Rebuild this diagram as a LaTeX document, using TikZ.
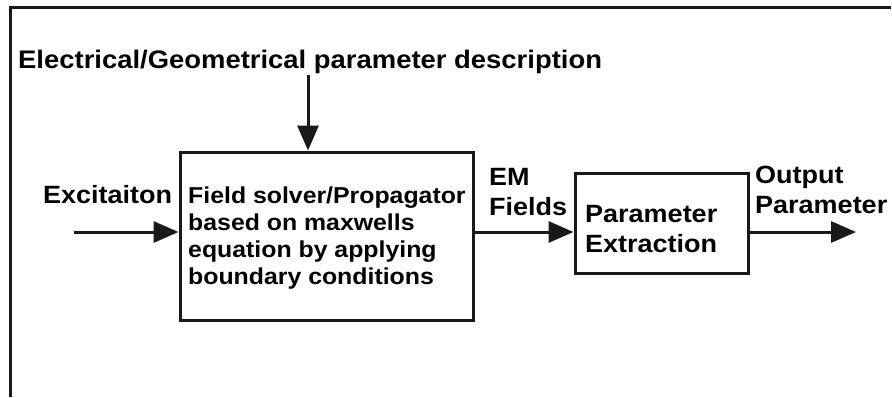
\documentclass[tikz,border=0pt]{standalone}
\usepackage{fontspec}
\setmainfont{Liberation Sans}[FakeStretch=1.08]
\usetikzlibrary{arrows.meta}
\begin{document}
\begin{tikzpicture}[x=1pt,y=-1pt,
  line/.style={line width=3pt,draw=black!90},
  flow/.style={line width=3pt,draw=black!90,-{Triangle[length=25pt,width=21pt]}},
  blk/.style={line width=3pt,draw=black!90,rectangle,inner sep=0pt},
  lbl/.style={inner sep=0pt,font=\bfseries\fontsize{25}{30}\selectfont,align=left,anchor=base west},
  btxt/.style={inner sep=0pt,font=\bfseries\fontsize{23}{27}\selectfont,align=left,anchor=base west}]
\useasboundingbox (0,0) rectangle (892,397);
% outer frame
\draw[line] (10,397) -- (10,7) -- (891,7);
% blocks
\node[blk,minimum width=293pt,minimum height=168pt] (b1) at (326.5,236) {};
\node[blk,minimum width=173pt,minimum height=100pt] (b2) at (661.5,223) {};
% texts (anchor at baseline of last line)
\node[lbl,font=\bfseries\fontsize{25.4}{30}\selectfont] (title) at (18,68) {Electrical/Geometrical parameter description};
\node[lbl] (exc) at (43,203) {Excitaiton};
\node[btxt] (b1t) at (188,284) {Field solver/Propagator\\based on maxwells\\equation by applying\\boundary conditions};
\node[lbl] (em) at (489,215) {EM\\Fields};
\node[lbl] (b2t) at (585,252) {Parameter\\Extraction};
\node[lbl] (outl) at (755,213) {Output\\Parameter};
% connectors
\coordinate (in) at (74,232);
\coordinate (out) at (856,232);
\coordinate (top) at (308,75);
\draw[flow] (in) -- (in -| b1.west);
\draw[flow] (b1.east |- in) -- (b2.west |- in);
\draw[flow] (b2.east |- out) -- (out);
\draw[flow] (top) -- (top |- b1.north);
\end{tikzpicture}
\end{document}
